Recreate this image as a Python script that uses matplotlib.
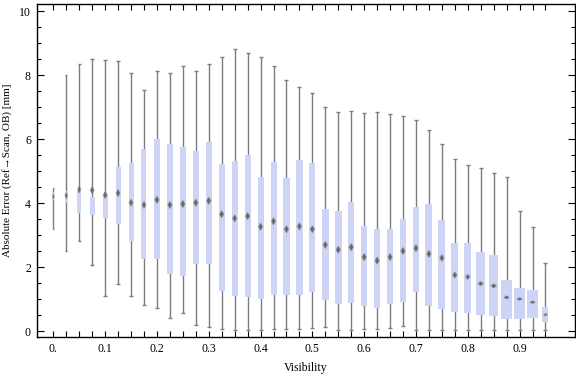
import numpy as np
import matplotlib
matplotlib.use("Agg")
import matplotlib.pyplot as plt
from matplotlib.ticker import MultipleLocator, FixedLocator

plt.rcParams['font.family'] = ['Liberation Serif', 'DejaVu Serif']
plt.rcParams['font.size'] = 8.5

# visibility bins (x categories)
visibility = [0.0, 0.025, 0.05, 0.075, 0.1, 0.125, 0.15, 0.175, 0.2, 0.225,
              0.25, 0.275, 0.3, 0.325, 0.35, 0.375, 0.4, 0.425, 0.45, 0.475,
              0.5, 0.525, 0.55, 0.575, 0.6, 0.625, 0.65, 0.675, 0.7, 0.725,
              0.75, 0.775, 0.8, 0.825, 0.85, 0.875, 0.9, 0.925, 0.95]

whisker_hi = [4.47, 8.00, 8.34, 8.49, 8.46, 8.43, 8.06, 7.52, 8.13, 8.06,
              8.27, 8.13, 8.34, 8.57, 8.80, 8.68, 8.55, 8.27, 7.83, 7.61,
              7.43, 6.99, 6.83, 6.87, 6.80, 6.83, 6.77, 6.71, 6.58, 6.27,
              5.83, 5.37, 5.18, 5.08, 4.93, 4.80, 3.74, 3.25, 2.11]
q3 = [4.35, 4.37, 4.37, 4.18, 4.28, 5.13, 5.25, 5.69, 6.00, 5.84,
      5.75, 5.63, 5.91, 5.22, 5.31, 5.50, 4.81, 5.28, 4.78, 5.34,
      5.25, 3.81, 3.75, 4.03, 3.28, 3.19, 3.19, 3.50, 3.87, 3.97,
      3.47, 2.75, 2.75, 2.47, 2.37, 1.59, 1.34, 1.28, 0.75]
mean_err = [4.20, 4.23, 4.42, 4.40, 4.25, 4.31, 4.01, 3.94, 4.10, 3.94,
            3.97, 4.01, 4.07, 3.65, 3.52, 3.59, 3.26, 3.43, 3.18, 3.27,
            3.18, 2.69, 2.54, 2.62, 2.31, 2.20, 2.31, 2.50, 2.59, 2.41,
            2.28, 1.75, 1.69, 1.48, 1.41, 1.05, 1.00, 0.90, 0.51]
q1 = [4.10, 3.99, 3.70, 3.61, 3.54, 3.33, 2.82, 2.26, 2.26, 1.79,
      1.73, 2.10, 2.10, 1.26, 1.09, 1.07, 1.01, 1.14, 1.13, 1.14,
      1.21, 0.96, 0.85, 0.87, 0.78, 0.73, 0.84, 0.91, 1.22, 0.78,
      0.69, 0.59, 0.56, 0.50, 0.47, 0.37, 0.37, 0.41, 0.28]
whisker_lo = [3.18, 2.51, 2.80, 2.05, 1.08, 1.46, 1.08, 0.80, 0.71, 0.40,
              0.55, 0.18, 0.12, 0.06, 0.02, 0.02, 0.02, 0.06, 0.05, 0.07,
              0.09, 0.14, 0.02, 0.02, 0.06, 0.06, 0.08, 0.15, 0.02, 0.02,
              0.02, 0.02, 0.02, 0.02, 0.02, 0.02, 0.02, 0.02, 0.02]

# box widths and diamond heights in pixels (style)
box_px = [2, 3, 4, 5, 5, 5, 5, 5, 6, 6, 6, 6, 6, 6, 6, 6, 6, 6, 7, 7,
          6, 6.5, 6.5, 6.5, 6.5, 6.5, 6.5, 6, 6.5, 7, 7, 7, 7, 9, 9, 11, 11, 11, 6]
dia_h_px = [5, 6, 7, 7, 7, 7, 7, 7, 7, 7, 7, 7, 7, 7, 7, 7, 7, 7, 7, 7,
            7, 7, 7, 7, 7, 7, 7, 7, 7, 7, 6.5, 6, 5, 4, 4, 3, 2.5, 2.5, 2]

fig = plt.figure(figsize=(5.76, 3.77), dpi=100)
ax = fig.add_axes([36.5/576, 40/377, 538.5/576, 332.7/377])
xmin, xmax = -0.0325, 1.007
ymin, ymax = -0.1875, 10.21
ax.set_xlim(xmin, xmax)
ax.set_ylim(ymin, ymax)
px_x = (xmax - xmin) / 538.5
px_y = (ymax - ymin) / 332.7

box_col = '#cdd4f5'
wh_col = '#7c7c7c'
for i, v in enumerate(visibility):
    w = box_px[i] * px_x
    ax.plot([v, v], [whisker_lo[i], whisker_hi[i]], color=wh_col, lw=1.0, zorder=1,
             solid_capstyle='butt')
    cap = min(4.0, 0.7 * box_px[i]) * px_x
    for yy in (whisker_lo[i], whisker_hi[i]):
        ax.plot([v - cap/2, v + cap/2], [yy, yy], color=wh_col, lw=1.0, zorder=1,
                solid_capstyle='butt')
    ax.bar(v, q3[i] - q1[i], bottom=q1[i], width=w, color=box_col, lw=0, zorder=2)
    # mean diamond
    dw = min(4.0, box_px[i] * 0.7) * px_x / 2
    if box_px[i] >= 9:
        dw = 5.0 * px_x / 2
    dh = dia_h_px[i] * px_y / 2
    xs = [v - dw, v, v + dw, v]
    ys = [mean_err[i], mean_err[i] + dh, mean_err[i], mean_err[i] - dh]
    ax.fill(xs, ys, color='#8a8a8a', alpha=0.5, lw=1.2, ec='#9a9a9a', zorder=3)
    ax.fill(xs, ys, color='#6a6a6a', lw=0, zorder=4)

ax.xaxis.set_major_locator(FixedLocator([0.0, 0.1, 0.2, 0.3, 0.4, 0.5, 0.6, 0.7, 0.8, 0.9]))
ax.set_xticklabels(['0.', '0.1', '0.2', '0.3', '0.4', '0.5', '0.6', '0.7', '0.8', '0.9'])
ax.xaxis.set_minor_locator(FixedLocator(visibility))
ax.yaxis.set_major_locator(MultipleLocator(2))
ax.yaxis.set_minor_locator(MultipleLocator(0.5))
ax.tick_params(which='both', direction='in', top=True, right=True, width=0.8, pad=4)
ax.tick_params(axis='x', which='both', length=4)
ax.tick_params(axis='y', which='major', length=5)
ax.tick_params(axis='y', which='minor', length=3)
for s in ax.spines.values():
    s.set_linewidth(1.0)

ax.set_xlabel('Visibility', labelpad=5)
ax.set_ylabel('Absolute Error (Ref\u2192Scan, OB) [mm]', labelpad=5, fontsize=8)

fig.savefig('out.png', dpi=100)
